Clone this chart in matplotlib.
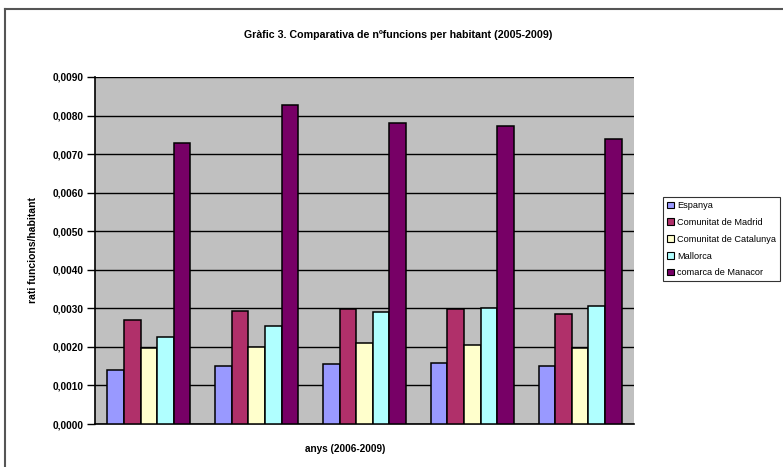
import numpy as np
import matplotlib
matplotlib.use("Agg")
import matplotlib.pyplot as plt
from matplotlib.lines import Line2D
from matplotlib.ticker import FuncFormatter

plt.rcParams['font.family'] = ['Liberation Sans Narrow', 'Liberation Sans', 'DejaVu Sans']

# dades llegides del gràfic
years = ["2005", "2006", "2007", "2008", "2009"]
series_names = ["Espanya", "Comunitat de Madrid", "Comunitat de Catalunya",
                "Mallorca", "comarca de Manacor"]
espanya = [0.00140, 0.00150, 0.00155, 0.00157, 0.00150]
madrid = [0.00270, 0.00292, 0.00297, 0.00298, 0.00285]
catalunya = [0.00197, 0.00200, 0.00210, 0.00205, 0.00197]
mallorca = [0.00225, 0.00255, 0.00290, 0.00302, 0.00305]
manacor = [0.00730, 0.00827, 0.00780, 0.00773, 0.00740]
colors = ["#9999FF", "#B0306A", "#FFFFCC", "#B0FFFF", "#770066"]

series = [espanya, madrid, catalunya, mallorca, manacor]

fig = plt.figure(figsize=(7.83, 4.67), dpi=100)
ax = fig.add_axes([95 / 783, 43 / 467, 539 / 783, 347 / 467])
ax.set_facecolor("#C0C0C0")

x = np.arange(len(years))
n = len(series)
w = 1 / (n + 1.5)
for i, (vals, col, name) in enumerate(zip(series, colors, series_names)):
    ax.bar(x + (i - (n - 1) / 2) * w, vals, width=w, color=col,
           edgecolor="black", linewidth=1.1, label=name, zorder=3)

ax.set_xlim(-0.5, len(years) - 0.5)
ax.set_ylim(0, 0.009)
ax.set_yticks(np.arange(0, 0.0091, 0.001))
ax.yaxis.set_major_formatter(FuncFormatter(lambda v, p: f"{v:.4f}".replace(".", ",")))
ax.grid(axis="y", color="black", linewidth=1.0, zorder=0)
ax.set_xticks([])
for s in ["top", "right"]:
    ax.spines[s].set_visible(False)
ax.spines["left"].set_linewidth(1.2)
ax.spines["bottom"].set_linewidth(1.2)
ax.tick_params(axis="y", length=6, width=1.0, labelsize=7.3, pad=2)
for t in ax.get_yticklabels():
    t.set_fontweight("bold")

fig.text(398 / 783, 1 - 35 / 467, "Gràfic 3. Comparativa de nºfuncions per habitant (2005-2009)",
         ha="center", va="center", fontsize=7.7, fontweight="bold")
fig.text(33 / 783, 1 - 250 / 467, "rati funcions/habitant", rotation=90,
         ha="center", va="center", fontsize=7.5, fontweight="bold")
fig.text(345 / 783, 1 - 449 / 467, "anys (2006-2009)", ha="center", va="center",
         fontsize=7.2, fontweight="bold")

handles = [plt.Rectangle((0, 0), 1, 1, facecolor=c, edgecolor="black", linewidth=0.8)
           for c in colors]
leg = fig.legend(handles, series_names, loc="upper left",
                 bbox_to_anchor=(663 / 783, 1 - 197 / 467), fontsize=6.6,
                 frameon=True, fancybox=False, edgecolor="black",
                 handlelength=0.75, handleheight=0.75, handletextpad=0.3,
                 labelspacing=0.85, borderpad=0.45, borderaxespad=0)
leg.get_frame().set_linewidth(0.8)

# marc exterior (només part visible)
fig.add_artist(Line2D([5 / 783, 1], [1 - 9 / 467, 1 - 9 / 467], color="#555555", linewidth=1.5))
fig.add_artist(Line2D([5 / 783, 5 / 783], [0, 1 - 9 / 467], color="#555555", linewidth=1.5))

fig.savefig("out.png", dpi=100)
